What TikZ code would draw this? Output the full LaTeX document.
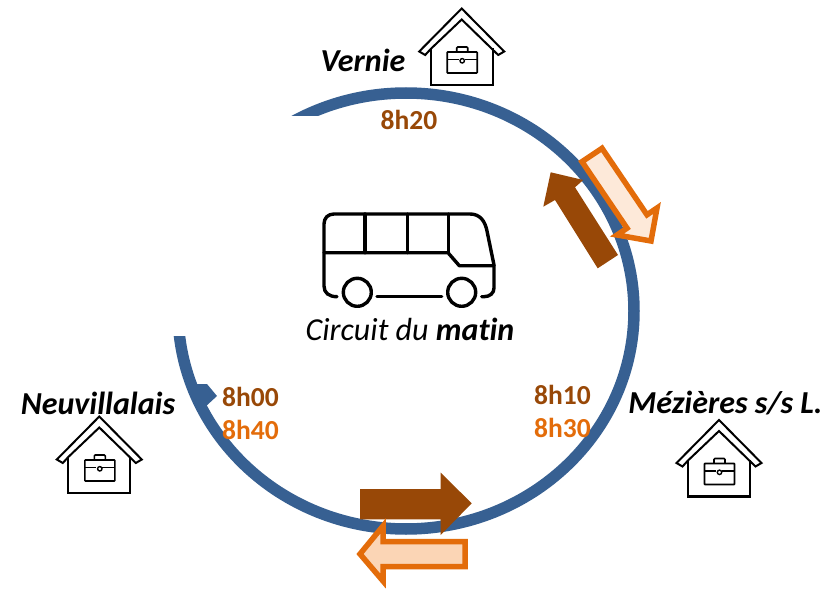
\documentclass[tikz,border=0pt]{standalone}
\usepackage{fontspec}
\setmainfont{Carlito}[Ligatures=CommonOff]
\usepackage{xcolor}
\usetikzlibrary{arrows.meta,calc}

\definecolor{ringblue}{HTML}{376092}
\definecolor{tripbrown}{HTML}{984807}
\definecolor{triporange}{HTML}{E36C0A}
\definecolor{palepeach}{HTML}{FDE9D9}
\definecolor{peach}{HTML}{FBD5B5}

\tikzset{
  stopname/.style={font=\fontsize{32}{34}\selectfont\bfseries\itshape, inner sep=0pt},
  hourbrown/.style={font=\fontsize{27.5}{30}\selectfont\bfseries, text=tripbrown, inner sep=0pt},
  hourorange/.style={font=\fontsize{27.5}{30}\selectfont\bfseries, text=triporange, inner sep=0pt},
  brownarrow/.style={fill=tripbrown, draw=none},
  orangearrow/.style={draw=triporange, line width=5.5pt, miter limit=10}
}

% office with a briefcase, drawn from the top of its roof
\newcommand{\office}[2]{
  \begin{scope}[shift={(#1,#2)}, line width=2.1pt]
    \draw (-31,40) -- (-31,76.5) -- (31,76.5) -- (31,40);
    \draw[line width=2pt] (-31,40.5) -- (-36.5,46.5) -- (-42.5,43) -- (0,0) -- (42.5,43) -- (36.5,46.5) -- (0,11) -- cycle;
    \draw[line width=1.6pt, rounded corners=0.6pt] (-14.5,43.5) rectangle (15.5,64.5);
    \draw[line width=1.6pt] (-14.5,51) -- (-3,51);
    \draw[line width=1.6pt] (3,51) -- (15.5,51);
    \draw[line width=1.6pt, rounded corners=1pt] (-5,43.5) -- (-5,38.5) -- (6,38.5) -- (6,43.5);
    \draw[line width=1.4pt] (0.5,52.3) circle (2.2);
  \end{scope}
}

\begin{document}
\begin{tikzpicture}[x=1pt, y=-1pt, >=Stealth]
\useasboundingbox (0,0) rectangle (839,594);

% Route
\begin{scope}
  \clip (0,0) -- (839,0) -- (839,594) -- (0,594) -- (0,336) -- (320,336) -- (320,116) -- (0,116) -- cycle;
  \draw[ringblue, line width=11.5pt] (406,311) ellipse (228 and 218);
\end{scope}
\fill[ringblue] (190,384) -- (207,384) -- (217,396) -- (204,408) -- (200,408) -- cycle;

% Offices
\office{461.7}{8.5}
\office{99.3}{416.5}
\office{719}{420}

% Bus
\begin{scope}[line width=3.4pt, line cap=round, line join=round]
  \draw (337,296.7) .. controls (329,296.7) and (324,293) .. (324,286) -- (324,224)
    .. controls (324,218) and (328,214) .. (334,214) -- (470,214)
    .. controls (480,214) and (485,221) .. (487,231) -- (494,265) -- (494,288)
    .. controls (494,293) and (490,296.7) .. (484,296.7) -- (481.7,296.7);
  \draw (377,296.7) -- (441.7,296.7);
  \draw (324,252.7) -- (448,252.7) -- (459.3,265.7) -- (494,265.7);
  \foreach \x in {365,407.3,448.3}
    \draw (\x,214) -- (\x,252.7);
  \draw (357.3,292.3) circle (14);
  \draw (461.7,292.3) circle (14);
\end{scope}

% Arrows
\fill[brownarrow] (618,255) -- (597.7,268.3) -- (555,200) -- (543.3,206.7) -- (550.7,172.3) -- (583.3,180) -- (575,187.3) -- cycle;
\draw[orangearrow, fill=palepeach] (602,148.3) -- (582,161.7) -- (627,228.2) -- (617,235) -- (651,241) -- (657,208) -- (647,214.8) -- cycle;
\fill[brownarrow] (360,489) -- (440.7,489) -- (440.7,472.7) -- (471.7,503.3) -- (440.7,535) -- (440.7,519.3) -- (360,519.3) -- cycle;
\draw[orangearrow, fill=peach] (465,541.5) -- (383,541.5) -- (383,526) -- (360,554) -- (383,581) -- (383,566.5) -- (465,566.5) -- cycle;

% Labels
\node[stopname] (vernie) at (363,60) {Vernie};
\node[stopname] (neuvillalais) at (98,403) {Neuvillalais};
\node[stopname] (mezieres) at (725.5,403) {Mézières s/s L.};
\node[hourbrown] (h820) at (409,120) {8h20};
\node[hourbrown] (h800) at (250.5,397) {8h00};
\node[hourorange] (h840) at (250.5,430) {8h40};
\node[hourbrown] (h810) at (562.5,395) {8h10};
\node[hourorange] (h830) at (562.5,428) {8h30};
\node[font=\fontsize{32}{34}\selectfont\itshape, inner sep=0pt] (circuit) at (410,329) {Circuit du \textbf{matin}};
\end{tikzpicture}
\end{document}
